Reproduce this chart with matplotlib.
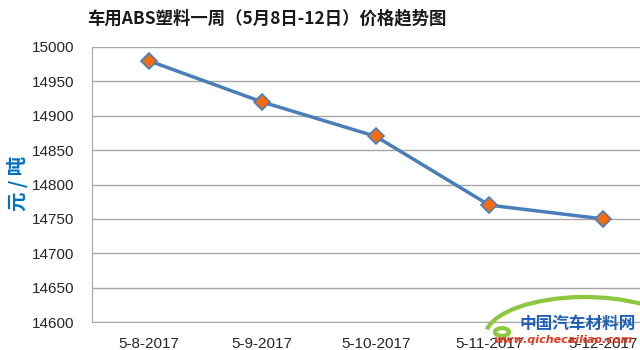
import matplotlib
matplotlib.use('Agg')
import matplotlib.pyplot as plt
from matplotlib.patches import Arc, Circle

dates = ['5-8-2017', '5-9-2017', '5-10-2017', '5-11-2017', '5-12-2017']
prices = [14980, 14920, 14870, 14770, 14750]
yticks = [14600, 14650, 14700, 14750, 14800, 14850, 14900, 14950, 15000]

plt.rcParams['font.family'] = ['Noto Sans CJK SC', 'DejaVu Sans']

fig = plt.figure(figsize=(6.4, 3.5), dpi=100)
# plot area runs off the right edge, like the original
ax = fig.add_axes([92 / 640, 1 - 322 / 350, 567.5 / 640, 275 / 350])

x = list(range(len(dates)))
ax.plot(x, prices, color='#4A7EBB', linewidth=2.5, marker='D', markersize=8,
        markerfacecolor='#F26B0F', markeredgecolor='#4A7EBB', markeredgewidth=1.2,
        zorder=3)

ax.set_xlim(-0.5, len(dates) - 0.5)
ax.set_ylim(14600, 15000)
ax.set_yticks(yticks)
ax.set_xticks(x)
ax.set_xticklabels(dates)
ax.yaxis.grid(True, color='#A6A6A6', linewidth=1)
ax.set_axisbelow(True)
for s in ['top', 'right']:
    ax.spines[s].set_visible(False)
ax.spines['left'].set_color('#A6A6A6')
ax.spines['bottom'].set_color('#A6A6A6')
ax.tick_params(length=0, labelsize=11, colors='#262626')
ax.tick_params(axis='y', pad=13)
ax.tick_params(axis='x', pad=11)
for lb in ax.get_xticklabels() + ax.get_yticklabels():
    lb.set_family('Liberation Sans')

# y label placed by hand so it isn't clipped
fig.text(18 / 640, 1 - 183 / 350, '元 / 吨', rotation=90, ha='center', va='center',
         color='#0070C0', fontsize=14, fontweight='bold')

fig.text(267 / 640, 1 - 18 / 350, '车用ABS塑料一周（5月8日-12日）价格趋势图',
         ha='center', va='center', fontsize=12.5, fontweight='bold', color='#1A1A1A')

# watermark
fig.patches.append(Arc((585 / 640, 1 - 337 / 350), 200 / 640, 80 / 350, theta1=12, theta2=172,
                       transform=fig.transFigure, color='#8DC63F', linewidth=3))
fig.patches.append(Circle((502 / 640, 1 - 332 / 350), 7 / 640, transform=fig.transFigure,
                          fill=False, edgecolor='#8DC63F', linewidth=3))
fig.text(578 / 640, 1 - 324 / 350, '中国汽车材料网', ha='center', va='center',
         fontsize=12, fontweight='bold', color='#1F5FB8', style='italic')
fig.text(563 / 640, 1 - 340 / 350, 'www.qichecailiao.com', ha='center', va='center',
         fontsize=8, fontweight='bold', color='#E03A1E', style='italic', family='DejaVu Sans')

fig.savefig('out.png', dpi=100)
